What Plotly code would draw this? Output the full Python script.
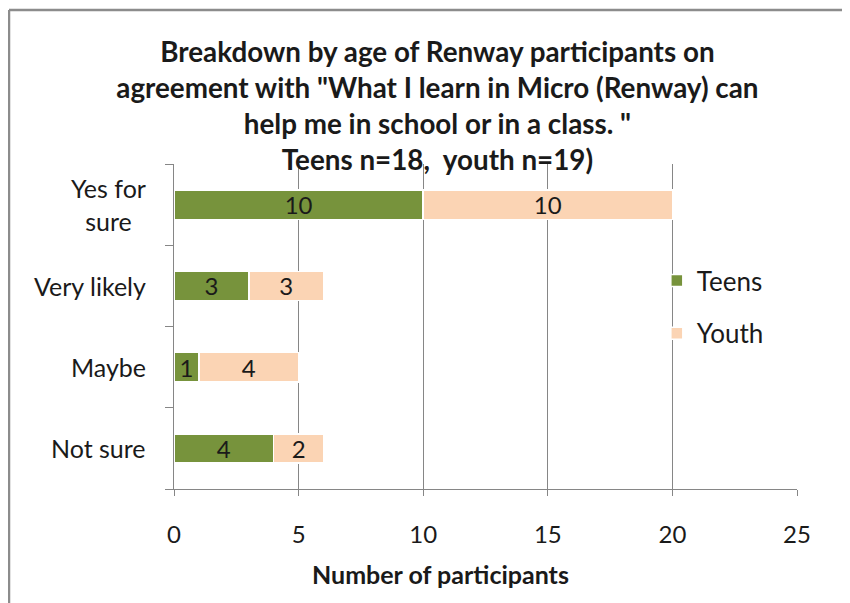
import plotly.graph_objects as go

categories = ["Not sure", "Maybe", "Very likely", "Yes for sure"]
category_labels = ["Not sure", "Maybe", "Very likely", "Yes for<br>sure"]
teens = [4, 1, 3, 10]
youth = [2, 4, 3, 10]
x_ticks = [0, 5, 10, 15, 20, 25]

FONT = "Lato, Carlito, Calibri, sans-serif"
TXT = "#1a1a1a"
GRID = "#868686"

W, H = 842, 595
L, T = 166, 156
PW, PH = 623, 325

fig = go.Figure()
fig.add_trace(go.Bar(
    y=categories, x=teens, name="Teens", orientation="h", legendgroup="t",
    marker=dict(color="#77933C", line=dict(color="white", width=1.5)),
    text=teens, textposition="inside", insidetextanchor="middle", textangle=0,
    constraintext="none",
    textfont=dict(size=24, color=TXT, family=FONT), width=0.36,
))
fig.add_trace(go.Bar(
    y=categories, x=youth, name="Youth", orientation="h", legendgroup="y",
    marker=dict(color="#FBD4B4", line=dict(color="white", width=1.5)),
    text=youth, textposition="inside", insidetextanchor="middle", textangle=0,
    constraintext="none",
    textfont=dict(size=24, color=TXT, family=FONT), width=0.36,
))

annotations = [dict(
    text="<b>Number of participants</b>", xref="paper", yref="paper",
    x=(432 - L) / PW, y=-(566 - (T + PH)) / PH, xanchor="center", yanchor="middle",
    showarrow=False, font=dict(size=25, family=FONT, color=TXT),
)]
for cat, lab in zip(categories, category_labels):
    annotations.append(dict(
        text=lab, xref="paper", yref="y", x=-(166 - 140) / PW, y=cat,
        xanchor="right", yanchor="middle", align="center", showarrow=False,
        font=dict(size=25, family=FONT, color=TXT),
    ))

fig.update_layout(
    barmode="stack",
    width=W, height=H,
    margin=dict(l=L, r=W - L - PW, t=T, b=H - T - PH, autoexpand=False),
    paper_bgcolor="white", plot_bgcolor="white",
    font=dict(family=FONT, color=TXT),
    showlegend=True,
    legend=dict(x=0.775, y=0.56, xanchor="left", yanchor="middle",
                font=dict(size=26, family=FONT, color=TXT),
                tracegroupgap=16, bgcolor="rgba(0,0,0,0)", traceorder="grouped"),
    title=dict(
        text=("<b>Breakdown by age of Renway participants on<br>"
              "agreement with \"What I learn in Micro (Renway) can<br>"
              "help me in school or in a class. \"<br>"
              "Teens n=18,  youth n=19)</b>"),
        x=0.51, xanchor="center", y=0.91, yanchor="top",
        font=dict(size=27.8, family=FONT, color=TXT),
    ),
    xaxis=dict(
        range=[0, 25], tickvals=x_ticks, ticktext=[str(v) for v in x_ticks],
        showgrid=True, gridcolor=GRID, gridwidth=1,
        showline=True, linecolor=GRID, linewidth=1,
        ticks="outside", ticklen=6, tickcolor=GRID,
        tickfont=dict(size=24, family=FONT, color=TXT),
        ticklabelstandoff=18, zeroline=False, automargin=False,
    ),
    yaxis=dict(
        categoryorder="array", categoryarray=categories,
        tickvals=categories, ticktext=[""] * len(categories),
        showline=True, linecolor=GRID, linewidth=1,
        ticks="outside", ticklen=8, tickcolor=GRID,
        tickson="boundaries", showticklabels=True,
        showgrid=False, range=[-0.5, 3.5], automargin=False,
    ),
    annotations=annotations,
    shapes=[
        dict(type="line", xref="paper", yref="paper",
             x0=(1 - L) / PW, x1=(W - L) / PW,
             y0=((T + PH) - 2) / PH, y1=((T + PH) - 2) / PH,
             line=dict(color="#8c8c8c", width=2.5), layer="below"),
        dict(type="line", xref="paper", yref="paper",
             x0=(1 - L) / PW, x1=(1 - L) / PW,
             y0=-(H + 20 - (T + PH)) / PH, y1=((T + PH) - 2) / PH,
             line=dict(color="#8c8c8c", width=2.5), layer="below"),
    ],
)

fig.write_html("out.html")
